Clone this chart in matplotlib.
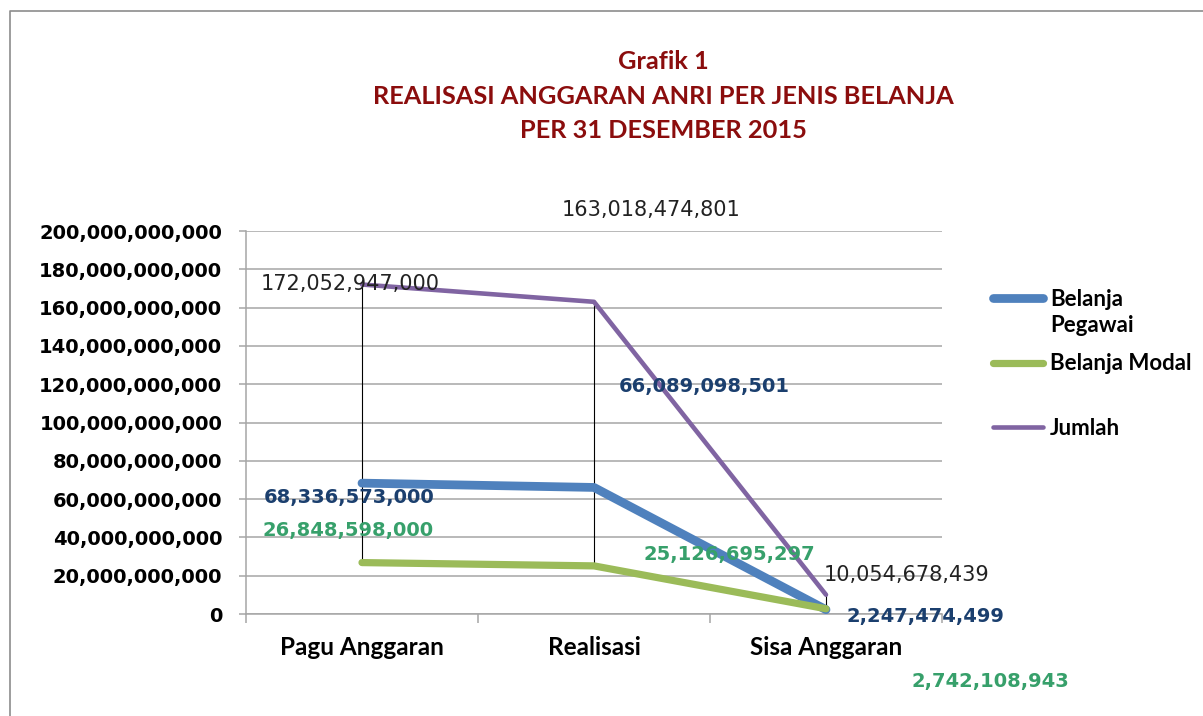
import numpy as np
import matplotlib.pyplot as plt
from matplotlib.lines import Line2D

# data
kategori = ['Pagu Anggaran', 'Realisasi', 'Sisa Anggaran']
belanja_pegawai = [68336573000, 66089098501, 2247474499]
belanja_modal = [26848598000, 25126695297, 2742108943]
jumlah = [172052947000, 163018474801, 10054678439]
nama_seri = ['Belanja', 'Belanja Modal', 'Jumlah']

biru = '#4F81BD'
hijau = '#9BBB59'
ungu = '#8064A2'
abu = '#A6A6A6'

plt.rcParams['font.family'] = ['Lato', 'DejaVu Sans']

fig = plt.figure(figsize=(12.03, 7.16), dpi=100)
W, H = 1203, 716
ax = fig.add_axes([246 / W, 1 - 614 / H, 696 / W, 383 / H])

x = np.arange(len(kategori))

# high-low lines
semua = np.array([belanja_pegawai, belanja_modal, jumlah], dtype=float)
ax.vlines(x, semua.min(axis=0), semua.max(axis=0), color='black', lw=0.8, zorder=2)

ax.plot(x, belanja_pegawai, color=biru, lw=6.3, solid_capstyle='round', zorder=3, label=nama_seri[0])
ax.plot(x, belanja_modal, color=hijau, lw=5.2, solid_capstyle='round', zorder=4, label=nama_seri[1])
ax.plot(x, jumlah, color=ungu, lw=3.3, solid_capstyle='round', zorder=5, label=nama_seri[2])

ax.set_xlim(-0.5, 2.5)
ax.set_ylim(0, 200e9)
yt = np.arange(0, 200e9 + 1, 20e9)
ax.set_yticks(yt)
ax.set_yticklabels([f'{v:,.0f}' for v in yt], fontfamily='DejaVu Sans', fontweight='bold', fontsize=14)
ax.set_xticks(x)
ax.set_xticklabels(kategori, fontweight='bold', fontsize=17.5)
ax.set_xticks([-0.5, 0.5, 1.5, 2.5], minor=True)
ax.tick_params(axis='x', which='major', length=0, pad=16)
ax.tick_params(axis='x', which='minor', length=6.5, color=abu, width=1.1)
ax.tick_params(axis='y', length=5, color=abu, width=1.1, pad=12)
ax.grid(axis='y', color=abu, lw=1.1)
ax.set_axisbelow(True)
for s in ['top', 'right']:
    ax.spines[s].set_visible(False)
for s in ['left', 'bottom']:
    ax.spines[s].set_color(abu)
    ax.spines[s].set_linewidth(1.1)

# data labels (offsets in pixels)
warna_label = ['#1B3F6E', '#37A06B', '#222222']
off = [
    [(-13, -14), (110, 101), (99, -7)],
    [(-14, 32), (135, 11), (164, -73)],
    [(-12, 1), (57, 92), (81, 20)],
]
for i, seri in enumerate([belanja_pegawai, belanja_modal, jumlah]):
    for j, v in enumerate(seri):
        ax.annotate(f'{v:,.0f}', (x[j], v), xytext=off[i][j], textcoords='offset pixels',
                    ha='center', va='center', fontfamily='DejaVu Sans',
                    fontweight='normal' if i == 2 else 'bold',
                    fontsize=15 if i == 2 else 14, color=warna_label[i], zorder=6,
                    annotation_clip=False)

# title
fig.text(663 / W, 1 - 96 / H, 'Grafik 1\nREALISASI ANGGARAN ANRI PER JENIS BELANJA\nPER 31 DESEMBER 2015',
         ha='center', va='center', fontsize=18.3, fontweight='bold', color='#8B0D0D', linespacing=1.63)

leg = ax.legend(loc='upper left', bbox_to_anchor=(982 / W, 1 - 278 / H), bbox_transform=fig.transFigure,
                frameon=False, prop={'weight': 'bold', 'size': 16}, handlelength=2.25,
                handletextpad=0.3, labelspacing=1.95, borderpad=0)
# second line of the first legend label
fig.text(1050 / W, 1 - 325 / H, 'Pegawai', ha='left', va='center', fontsize=16, fontweight='bold')

# outer frame
fig.add_artist(Line2D([10 / W, 10 / W, 1], [0, 1 - 11 / H, 1 - 11 / H], color='#8C8C8C', lw=1.2,
                      transform=fig.transFigure))

fig.savefig('out.png', dpi=100)
